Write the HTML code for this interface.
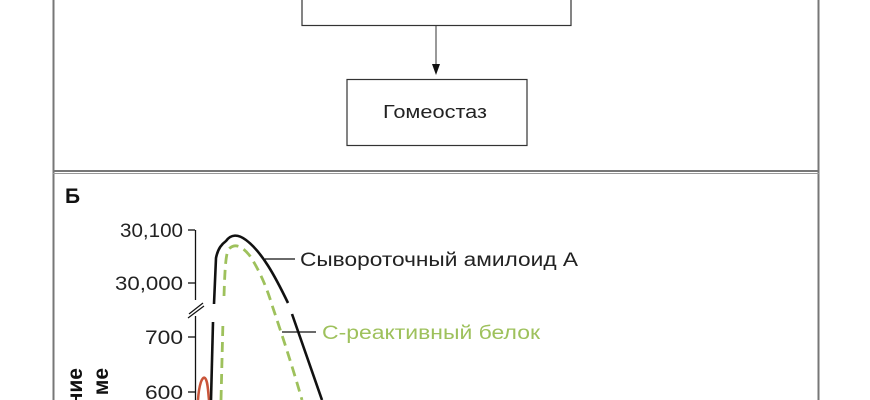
<!DOCTYPE html>
<html><head><meta charset="utf-8"><style>
html,body{margin:0;padding:0;background:#fff;width:870px;height:400px;overflow:hidden}
</style></head><body>
<svg width="870" height="400" viewBox="0 0 870 400" xmlns="http://www.w3.org/2000/svg" font-family="Liberation Sans, DejaVu Sans, sans-serif" style="display:block;overflow:hidden">
<rect x="0" y="0" width="870" height="400" fill="#fff"/>
<line x1="53.5" y1="0" x2="53.5" y2="400" stroke="#777" stroke-width="2"/>
<line x1="818.5" y1="0" x2="818.5" y2="400" stroke="#777" stroke-width="2"/>
<line x1="53" y1="171" x2="819" y2="171" stroke="#777" stroke-width="2"/>
<line x1="53" y1="173.5" x2="819" y2="173.5" stroke="#999" stroke-width="1"/>
<rect x="302" y="-5" width="269" height="30.5" fill="#fff" stroke="#333" stroke-width="1.2"/>
<line x1="436" y1="26" x2="436" y2="66" stroke="#333" stroke-width="1"/>
<polygon points="432,64 440,64 436,75" fill="#111"/>
<rect x="347" y="79.5" width="180" height="66" fill="#fff" stroke="#333" stroke-width="1.2"/>
<text x="383" y="118" font-size="18" textLength="104" lengthAdjust="spacingAndGlyphs" fill="#222">Гомеостаз</text>
<text x="65" y="203" font-size="21" font-weight="bold" fill="#111">Б</text>
<line x1="195.5" y1="230" x2="195.5" y2="300" stroke="#111" stroke-width="1.3"/>
<line x1="195.5" y1="316" x2="195.5" y2="400" stroke="#111" stroke-width="1.3"/>
<line x1="188" y1="230" x2="195" y2="230" stroke="#111" stroke-width="1.3"/>
<line x1="188" y1="283" x2="195" y2="283" stroke="#111" stroke-width="1.3"/>
<line x1="188" y1="337" x2="195" y2="337" stroke="#111" stroke-width="1.3"/>
<line x1="188" y1="392" x2="195" y2="392" stroke="#111" stroke-width="1.3"/>
<line x1="189" y1="314" x2="203" y2="303" stroke="#111" stroke-width="1.2"/>
<line x1="188" y1="318" x2="204" y2="306" stroke="#111" stroke-width="1.2"/>
<g font-size="19" fill="#222">
<text x="120" y="237" textLength="63" lengthAdjust="spacingAndGlyphs">30,100</text>
<text x="115" y="290" textLength="68" lengthAdjust="spacingAndGlyphs">30,000</text>
<text x="145" y="344" textLength="38" lengthAdjust="spacingAndGlyphs">700</text>
<text x="145" y="399" textLength="38" lengthAdjust="spacingAndGlyphs">600</text>
</g>
<text transform="translate(82,368) rotate(-90)" font-size="21" font-weight="bold" fill="#111" text-anchor="end">ние</text>
<text transform="translate(108,368) rotate(-90)" font-size="21" font-weight="bold" fill="#111" text-anchor="end">ме</text>
<path d="M198,400 C199,385 202,376 205,378 C208,381 208,392 209,400" fill="none" stroke="#c9553a" stroke-width="2.5"/>
<path d="M211,400 L213,322" fill="none" stroke="#111" stroke-width="2.6"/>
<path d="M214,304 L216,258 C218,248 222,244 226,241 C231,234 238,234 246,240 C262,252 275,276 288,303" fill="none" stroke="#111" stroke-width="2.6"/>
<path d="M292,314 L322,400" fill="none" stroke="#111" stroke-width="2.6"/>
<path d="M221,400 L223,320" fill="none" stroke="#9ec15c" stroke-width="2.8" stroke-dasharray="10,6"/>
<path d="M224,296 C225,265 226,250 230,248 C236,243 243,247 250,256 C258,268 266,285 272,305 C282,335 292,365 302,400" fill="none" stroke="#9ec15c" stroke-width="2.8" stroke-dasharray="10,6"/>
<line x1="265" y1="259" x2="295" y2="259" stroke="#111" stroke-width="1.3"/>
<text x="300" y="266" font-size="19" textLength="278" lengthAdjust="spacingAndGlyphs" fill="#222">Сывороточный амилоид А</text>
<line x1="282" y1="332" x2="316" y2="332" stroke="#111" stroke-width="1.3"/>
<text x="322" y="339" font-size="19" textLength="218" lengthAdjust="spacingAndGlyphs" fill="#9ec15c">С-реактивный белок</text>
</svg>
</body></html>
